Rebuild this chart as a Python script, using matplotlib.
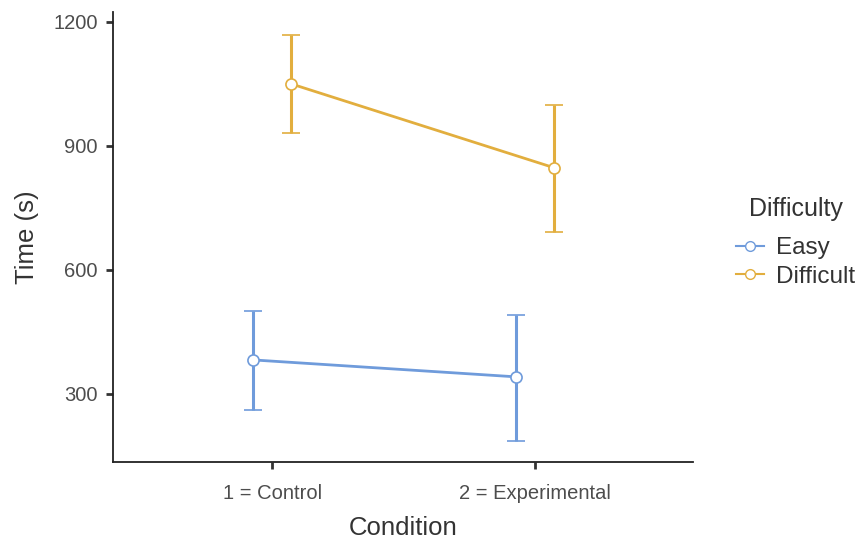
import numpy as np
import matplotlib
matplotlib.use("Agg")
import matplotlib.pyplot as plt
from matplotlib.lines import Line2D

plt.rcParams['font.family'] = ['Liberation Sans', 'DejaVu Sans']

# data
conditions = ['1 = Control', '2 = Experimental']
groups = ['Easy', 'Difficult']
means = {'Easy': [382, 341], 'Difficult': [1050, 847]}
upper = {'Easy': [501, 491], 'Difficult': [1169, 999]}
lower = {'Easy': [261, 186], 'Difficult': [931, 692]}

colors = {'Easy': '#6F9BDB', 'Difficult': '#E2AE3E'}
dodge = {'Easy': -0.072, 'Difficult': 0.072}

fig = plt.figure(figsize=(8.64, 5.42), dpi=100)
ax = fig.add_axes([0.1308, 0.1476, 0.6712, 0.8304])

x = np.arange(1, len(conditions) + 1)
handles = []
for g in groups:
    m = np.array(means[g])
    err = [m - np.array(lower[g]), np.array(upper[g]) - m]
    xs = x + dodge[g]
    ax.errorbar(xs, m, yerr=err, color=colors[g], lw=2, elinewidth=2.2,
                capsize=6.5, capthick=2.2, marker='o', ms=8,
                mfc='white', mec=colors[g], mew=1.2, zorder=3)
    handles.append(Line2D([], [], color=colors[g], lw=1.5, marker='o', ms=7,
                          mfc='white', mec=colors[g], mew=1.0, label=g))

ax.set_xlim(0.395, 2.6)
ax.set_ylim(135, 1224)
ax.set_xticks(x)
ax.set_xticklabels(conditions)
ax.set_yticks([300, 600, 900, 1200])

for s in ['top', 'right']:
    ax.spines[s].set_visible(False)
for s in ['left', 'bottom']:
    ax.spines[s].set_color('#222222')
    ax.spines[s].set_linewidth(1.3)
ax.tick_params(axis='both', length=5, width=2, color='#333333',
               labelcolor='#4D4D4D', labelsize=14.5)
ax.tick_params(axis='x', pad=11)
ax.tick_params(axis='y', pad=6)

ax.set_xlabel('Condition', fontsize=18.5, color='#333333', labelpad=9)
ax.set_ylabel('Time (s)', fontsize=18.5, color='#333333', labelpad=10)

leg = ax.legend(handles=handles, title='Difficulty', loc='upper left',
                bbox_to_anchor=(1.058, 0.61), frameon=False, fontsize=17.5,
                title_fontsize=18, handlelength=1.15, handletextpad=0.5,
                labelspacing=0.28, borderaxespad=0)
leg._legend_box.sep = 11.5
leg.get_title().set_color('#333333')
for t in leg.get_texts():
    t.set_color('#333333')

fig.savefig('out.png', dpi=100)
